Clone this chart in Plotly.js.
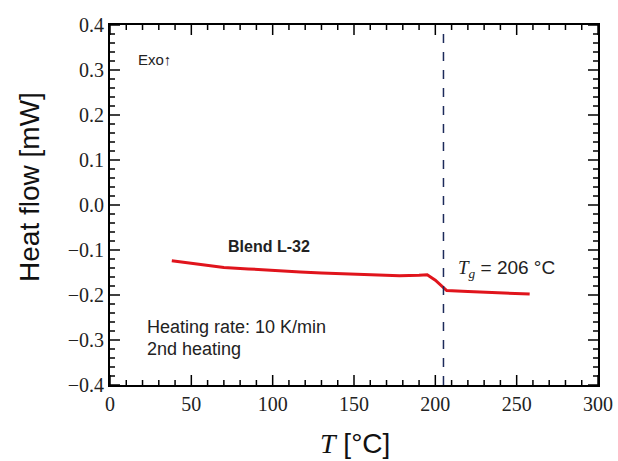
<!DOCTYPE html>
<html><head><meta charset="utf-8">
<script src="https://cdn.plot.ly/plotly-3.0.1.min.js"></script>
</head><body style="margin:0;background:#fff"><div id="chart"></div>
<script>
const temperature = [38, 50, 60, 70, 85, 100, 117, 130, 150, 165, 178, 190, 195, 200, 204, 207, 220, 235, 250, 258];
const heatFlow = [-0.124, -0.129, -0.134, -0.139, -0.142, -0.146, -0.149, -0.151, -0.154, -0.156, -0.157, -0.156, -0.155, -0.167, -0.180, -0.190, -0.192, -0.194, -0.196, -0.198];
const tgValue = [205];
const xRange = [0, 300], yRange = [-0.4, 0.4];
const xTickStep = 50, xMinorStep = 10;
const yTickStep = 0.1, yMinorStep = 0.02;

const serif = "Liberation Serif, Times New Roman, serif";
const sans = "Liberation Sans, Arial, sans-serif";

const data = [
  {x: temperature, y: heatFlow, type: 'scatter', mode: 'lines',
   line: {color: '#e0141c', width: 3}}
];

// tick marks drawn as pixel-sized shapes anchored on the axes
const tickShapes = [];
const tickLine = {color: '#000', width: 1.5};
const nx = Math.round((xRange[1] - xRange[0]) / xMinorStep);
for (let i = 0; i <= nx; i++) {
  const v = xRange[0] + i * xMinorStep;
  const len = (Math.abs(v / xTickStep - Math.round(v / xTickStep)) < 1e-9) ? 10 : 5;
  tickShapes.push({type: 'line', xref: 'x', yref: 'paper', ysizemode: 'pixel', yanchor: 0,
    x0: v, x1: v, y0: 0, y1: len, line: tickLine, layer: 'above'});
  tickShapes.push({type: 'line', xref: 'x', yref: 'paper', ysizemode: 'pixel', yanchor: 1,
    x0: v, x1: v, y0: 0, y1: -len, line: tickLine, layer: 'above'});
}
const ny = Math.round((yRange[1] - yRange[0]) / yMinorStep);
for (let i = 0; i <= ny; i++) {
  const v = yRange[0] + i * yMinorStep;
  const r = v / yTickStep;
  const len = (Math.abs(r - Math.round(r)) < 1e-6) ? 10 : 5;
  tickShapes.push({type: 'line', yref: 'y', xref: 'paper', xsizemode: 'pixel', xanchor: 0,
    y0: v, y1: v, x0: 0, x1: len, line: tickLine, layer: 'above'});
  tickShapes.push({type: 'line', yref: 'y', xref: 'paper', xsizemode: 'pixel', xanchor: 1,
    y0: v, y1: v, x0: 0, x1: -len, line: tickLine, layer: 'above'});
}

const axisBase = (range, step) => ({
  range: range, dtick: step, ticks: '',
  showline: true, linecolor: '#000', linewidth: 2, mirror: true,
  zeroline: false, showgrid: false,
  tickfont: {family: serif, size: 20, color: '#222'}
});

const layout = {
  width: 618, height: 461,
  margin: {l: 110, r: 20, t: 25, b: 76},
  paper_bgcolor: '#fff', plot_bgcolor: '#fff',
  showlegend: false,
  xaxis: axisBase(xRange, xTickStep),
  yaxis: Object.assign(axisBase(yRange, yTickStep), {tickformat: '.1f'}),
  shapes: [
    {type: 'line', xref: 'x', yref: 'paper', x0: tgValue[0], x1: tgValue[0], y0: 0, y1: 1,
     line: {color: '#1c2a5a', width: 1.5, dash: 'dash'}}
  ].concat(tickShapes),
  annotations: [
    {xref: 'paper', yref: 'paper', x: -0.164, y: 0.55, xanchor: 'center', yanchor: 'middle', showarrow: false,
     textangle: -90, text: 'Heat flow [mW]', font: {family: sans, size: 28, color: '#111'}},
    {xref: 'paper', yref: 'paper', x: 0.502, y: -0.162, xanchor: 'center', yanchor: 'middle', showarrow: false,
     text: '<span style="font-family:Liberation Serif;font-style:italic">T</span> [°C]',
     font: {family: sans, size: 28, color: '#111'}},
    {xref: 'paper', yref: 'paper', x: 0.053, y: 0.905, xanchor: 'left', yanchor: 'middle', showarrow: false,
     text: 'Exo↑', font: {family: sans, size: 15, color: '#222'}},
    {xref: 'x', yref: 'y', x: 98, y: -0.092, xanchor: 'center', yanchor: 'middle', showarrow: false,
     text: '<b>Blend L-32</b>', font: {family: sans, size: 16, color: '#222'}},
    {xref: 'paper', yref: 'paper', x: 0.072, y: 0.161, xanchor: 'left', yanchor: 'middle', showarrow: false,
     text: 'Heating rate: 10 K/min', font: {family: sans, size: 18, color: '#222'}},
    {xref: 'paper', yref: 'paper', x: 0.072, y: 0.101, xanchor: 'left', yanchor: 'middle', showarrow: false,
     text: '2nd heating', font: {family: sans, size: 18, color: '#222'}},
    {xref: 'x', yref: 'y', x: 213, y: -0.143, xanchor: 'left', yanchor: 'middle', showarrow: false,
     text: '<span style="font-family:Liberation Serif;font-style:italic">T</span><sub><span style="font-family:Liberation Serif;font-style:italic">g</span></sub> = 206 °C',
     font: {family: sans, size: 19, color: '#222'}}
  ]
};
Plotly.newPlot('chart', data, layout, {displayModeBar: false});
</script>
</body></html>
